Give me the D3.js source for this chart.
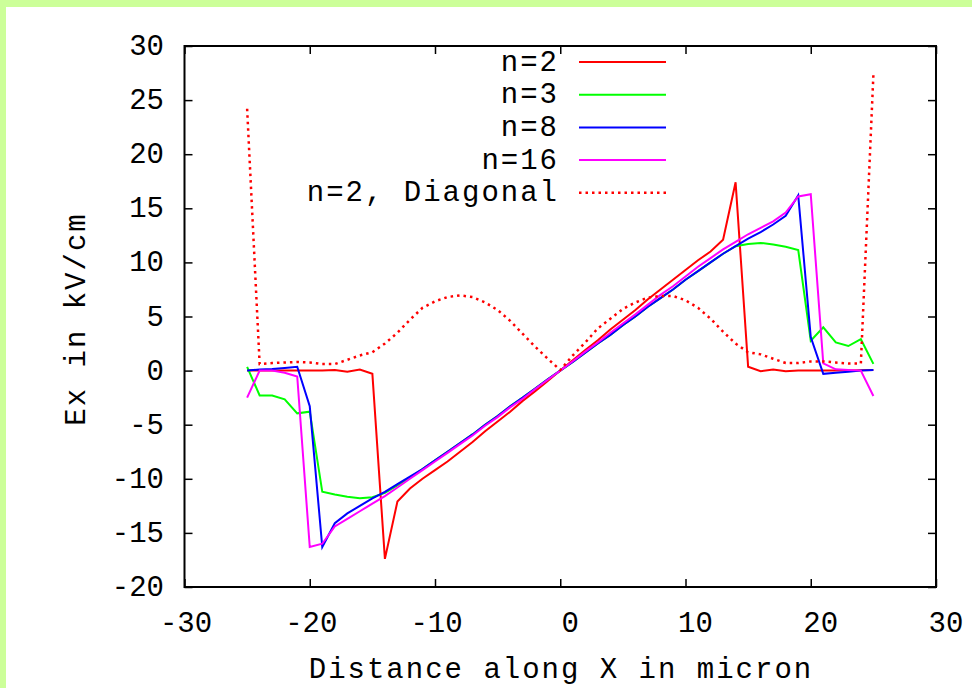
<!DOCTYPE html>
<html>
<head>
<meta charset="utf-8">
<script src="https://cdn.jsdelivr.net/npm/d3@7/dist/d3.min.js"></script>
<style>
  html, body { margin: 0; padding: 0; background: #ccff99; }
  svg { display: block; }
  text { font-family: "Liberation Mono", "DejaVu Sans Mono", monospace; fill: #000; }
</style>
</head>
<body>
<svg id="chart" width="972" height="688"></svg>
<script>
// sample positions along X (micron)
const xPos = [-25, -24, -23, -22, -21, -20, -19, -18, -17, -16, -15, -14, -13, -12, -11, -10, -9, -8, -7, -6, -5, -4, -3, -2, -1,
  0, 1, 2, 3, 4, 5, 6, 7, 8, 9, 10, 11, 12, 13, 14, 15, 16, 17, 18, 19, 20, 21, 22, 23, 24, 25];

// Ex in kV/cm
const exN2 = [0, 0, 0, 0, 0, 0, 0.02, 0.05, -0.1, 0.1, -0.3, -17.4, -12.1, -10.9, -10.0, -9.2, -8.4, -7.5, -6.6, -5.6, -4.7, -3.8, -2.8, -1.9, -0.95,
  0, 0.95, 1.9, 2.8, 3.8, 4.7, 5.6, 6.6, 7.5, 8.4, 9.3, 10.2, 11.0, 12.1, 17.4, 0.35, -0.05, 0.1, -0.05, 0, 0, 0, 0.02, 0, 0.03, 0.05];
const exN3 = [0.35, -2.3, -2.3, -2.65, -3.95, -3.8, -11.2, -11.45, -11.65, -11.8, -11.7, -11.3, -10.6, -9.9, -9.1, -8.3, -7.5, -6.7, -5.9, -5.0, -4.2, -3.3, -2.5, -1.65, -0.8,
  0, 0.8, 1.65, 2.5, 3.3, 4.2, 5.0, 5.9, 6.7, 7.5, 8.4, 9.2, 10.0, 10.8, 11.5, 11.7, 11.8, 11.65, 11.45, 11.15, 2.76, 4.0, 2.6, 2.27, 2.9, 0.62];
const exN8 = [0, 0.1, 0.15, 0.25, 0.35, -3.3, -16.3, -14.1, -13.2, -12.5, -11.8, -11.2, -10.5, -9.8, -9.1, -8.3, -7.5, -6.7, -5.9, -5.0, -4.2, -3.3, -2.5, -1.65, -0.8,
  0, 0.8, 1.65, 2.5, 3.3, 4.2, 5.0, 5.9, 6.7, 7.5, 8.4, 9.2, 10.0, 10.8, 11.5, 12.2, 12.8, 13.5, 14.3, 16.2, 3.1, -0.3, -0.2, -0.1, 0, 0.05];
const exN16 = [-2.5, 0, 0, -0.2, -0.55, -16.3, -16.0, -14.4, -13.7, -13.0, -12.3, -11.6, -10.8, -10.0, -9.2, -8.4, -7.6, -6.8, -6.0, -5.1, -4.3, -3.4, -2.6, -1.7, -0.85,
  0, 0.87, 1.75, 2.6, 3.5, 4.35, 5.2, 6.1, 7.0, 7.8, 8.7, 9.6, 10.4, 11.2, 11.9, 12.6, 13.2, 13.8, 14.6, 16.1, 16.3, 0.67, 0.12, 0.05, 0, -2.35];
const exDiag = [24.2, 0.6, 0.7, 0.75, 0.8, 0.75, 0.6, 0.6, 1.0, 1.4, 1.7, 2.5, 3.5, 4.7, 5.8, 6.4, 6.8, 6.95, 6.8, 6.3, 5.6, 4.6, 3.4, 2.2, 1.1,
  0.05, 1.4, 2.6, 3.9, 4.8, 5.7, 6.3, 6.75, 6.9, 6.9, 6.5, 5.8, 4.8, 3.6, 2.5, 1.7, 1.5, 1.1, 0.7, 0.7, 0.85, 0.85, 0.75, 0.65, 0.65, 27.3];

const seriesNames = ['n=2', 'n=3', 'n=8', 'n=16', 'n=2, Diagonal'];
const seriesColors = ['#ff0000', '#00ff00', '#0000ff', '#ff00ff', '#ff0000'];
const seriesValues = [exN2, exN3, exN8, exN16, exDiag];

const xTicks = [-30, -20, -10, 0, 10, 20, 30];
const yTicks = [-20, -15, -10, -5, 0, 5, 10, 15, 20, 25, 30];

const W = 972, H = 688;
const margin = {left: 184.5, top: 46, right: 36, bottom: 101};

const svg = d3.select('#chart');

// light green page frame on top and left, white canvas inside
svg.append('rect').attr('x', 0).attr('y', 0).attr('width', W).attr('height', H).attr('fill', '#ccff99');
svg.append('rect').attr('x', 6).attr('y', 7).attr('width', W - 6).attr('height', H - 7).attr('fill', '#ffffff');

const x = d3.scaleLinear().domain([-30, 30]).range([margin.left, W - margin.right]);
const y = d3.scaleLinear().domain([-20, 30]).range([H - margin.bottom, margin.top]);

// ticks on all four sides, pointing inward
const tick = 8;
svg.append('g').attr('transform', 'translate(0,' + y(-20) + ')')
  .call(d3.axisBottom(x).tickValues(xTicks).tickSize(-tick).tickFormat(''));
svg.append('g').attr('transform', 'translate(0,' + y(30) + ')')
  .call(d3.axisTop(x).tickValues(xTicks).tickSize(-tick).tickFormat(''));
svg.append('g').attr('transform', 'translate(' + x(-30) + ',0)')
  .call(d3.axisLeft(y).tickValues(yTicks).tickSize(-tick).tickFormat(''));
svg.append('g').attr('transform', 'translate(' + x(30) + ',0)')
  .call(d3.axisRight(y).tickValues(yTicks).tickSize(-tick).tickFormat(''));
svg.selectAll('.domain').remove();
svg.selectAll('.tick line').attr('stroke', '#000').attr('stroke-width', 1.5);

// frame
svg.append('rect')
  .attr('x', x(-30)).attr('y', y(30))
  .attr('width', x(30) - x(-30)).attr('height', y(-20) - y(30))
  .attr('fill', 'none').attr('stroke', '#000').attr('stroke-width', 2);

// tick labels
svg.append('g').selectAll('text').data(xTicks).enter().append('text')
  .attr('x', d => x(d) + (d < 0 ? 1.5 : 10))
  .attr('y', 632)
  .attr('text-anchor', 'middle')
  .style('font-size', '29px')
  .text(d => d);

svg.append('g').selectAll('text').data(yTicks).enter().append('text')
  .attr('x', 164)
  .attr('y', d => y(d) + 9)
  .attr('text-anchor', 'end')
  .style('font-size', '29px')
  .text(d => d);

// axis titles
svg.append('text')
  .attr('x', 561).attr('y', 678)
  .attr('text-anchor', 'middle')
  .style('font-size', '29px')
  .style('letter-spacing', '2px')
  .text('Distance along X in micron');

svg.append('text')
  .attr('transform', 'translate(85,319) rotate(-90)')
  .attr('text-anchor', 'middle')
  .style('font-size', '29px')
  .style('letter-spacing', '2px')
  .text('Ex in kV/cm');

// curves
const line = d3.line()
  .x((d, i) => x(xPos[i]))
  .y(d => y(d));

seriesValues.forEach((vals, k) => {
  svg.append('path')
    .datum(vals)
    .attr('d', line)
    .attr('fill', 'none')
    .attr('stroke', seriesColors[k])
    .attr('stroke-width', k === 4 ? 2.5 : 2)
    .attr('stroke-dasharray', k === 4 ? '2.5,4' : null)
    .attr('stroke-linejoin', 'miter');
});

// legend
const legend = svg.selectAll('.legend')
  .data(seriesNames)
  .enter().append('g')
  .attr('class', 'legend')
  .attr('transform', (d, i) => 'translate(0,' + (62 + i * 32.7) + ')');

legend.append('text')
  .attr('x', 559)
  .attr('y', 8.5)
  .attr('text-anchor', 'end')
  .style('font-size', '29px')
  .style('letter-spacing', '2px')
  .text(d => d);

legend.append('line')
  .attr('x1', 579).attr('x2', 666)
  .attr('y1', 0).attr('y2', 0)
  .attr('stroke', (d, i) => seriesColors[i])
  .attr('stroke-width', (d, i) => i === 4 ? 2.5 : 2)
  .attr('stroke-dasharray', (d, i) => i === 4 ? '2.5,4' : null);
</script>
</body>
</html>
